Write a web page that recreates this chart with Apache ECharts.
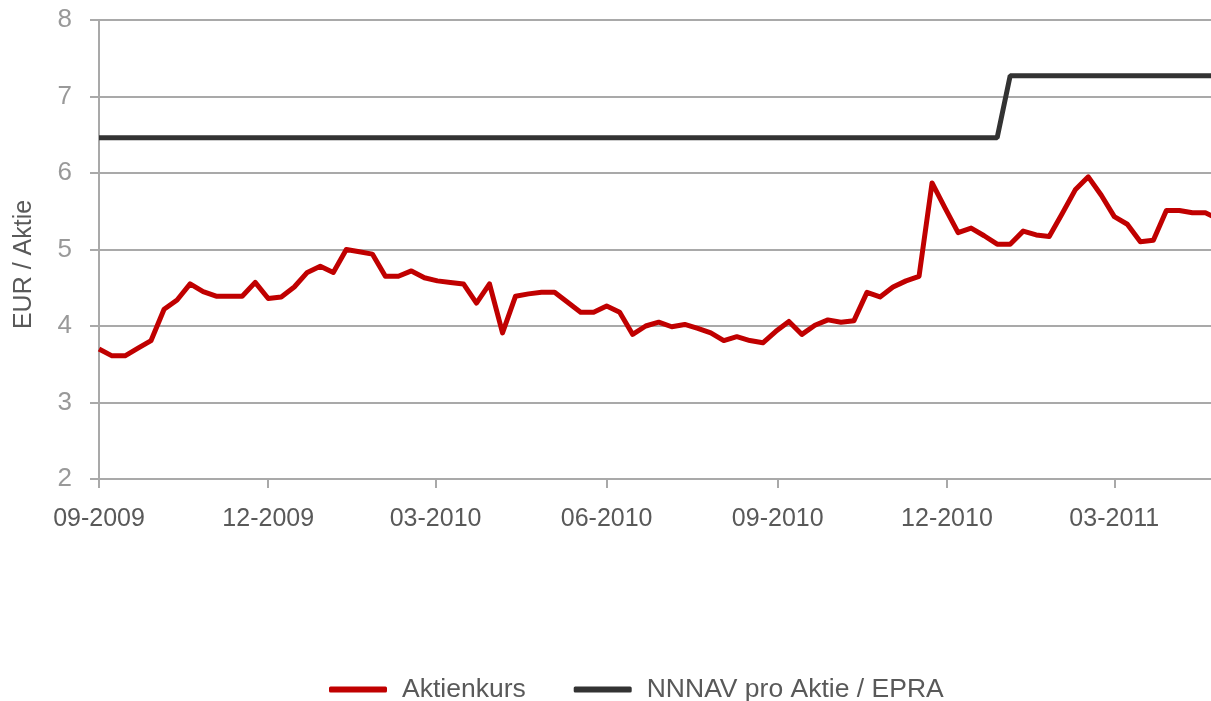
<!DOCTYPE html>
<html>
<head>
<meta charset="utf-8">
<script src="https://cdn.jsdelivr.net/npm/echarts@6/dist/echarts.min.js"></script>
<style>
    html, body { margin: 0; padding: 0; background: #fff; }
    #chart { width: 1211px; height: 701px; }
</style>
</head>
<body>
<div id="chart"></div>
<script>
// Aktienkurs vs. NNNAV, weekly closes from 09-2009

// first weekly close, one point every 7 days after that
var startDate = [2009, 8, 1];
var axisEnd = [2011, 3, 22];

// Aktienkurs (EUR), weekly
var kursValues = [
    3.70, 3.61, 3.61, 3.71, 3.81, 4.22, 4.34, 4.55, 4.45, 4.39,
    4.39, 4.39, 4.57, 4.36, 4.38, 4.51, 4.70, 4.78, 4.70, 5.00,
    4.97, 4.94, 4.65, 4.65, 4.72, 4.63, 4.59, 4.57, 4.55, 4.30,
    4.55, 3.91, 4.39, 4.42, 4.44, 4.44, 4.31, 4.18, 4.18, 4.26,
    4.18, 3.89, 4.00, 4.05, 3.99, 4.02, 3.97, 3.91, 3.81, 3.86,
    3.81, 3.78, 3.93, 4.06, 3.89, 4.01, 4.08, 4.05, 4.07, 4.44,
    4.38, 4.51, 4.59, 4.65, 5.87, 5.54, 5.22, 5.28, 5.18, 5.07,
    5.07, 5.24, 5.19, 5.17, 5.47, 5.78, 5.95, 5.71, 5.43, 5.33,
    5.10, 5.12, 5.51, 5.51, 5.48, 5.48, 5.40
];

// NNNAV pro Aktie / EPRA: only the corner points of the step
var navDates = ['2009-09-01', '2010-12-28', '2011-01-04', '2011-04-26'];
var navValues = [6.46, 6.46, 7.27, 7.27];

// quarter ticks on the x axis
var tickDates = ['2009-09-01', '2009-12-01', '2010-03-01', '2010-06-01', '2010-09-01', '2010-12-01', '2011-03-01'];

function toTime(s) {
    var p = s.split('-');
    return new Date(+p[0], +p[1] - 1, +p[2]).getTime();
}

var kursData = [];
for (var i = 0; i < kursValues.length; i++) {
    var d = new Date(startDate[0], startDate[1], startDate[2] + 7 * i);
    kursData.push([d.getTime(), kursValues[i]]);
}
var navData = [];
for (var j = 0; j < navDates.length; j++) {
    navData.push([toTime(navDates[j]), navValues[j]]);
}

var gridColor = '#a9a9a9';
var font = 'Liberation Sans, Arial, sans-serif';

var option = {
    animation: false,
    grid: {
        left: 99,
        right: 0,
        top: 20,
        bottom: 222
    },
    legend: {
        left: 324,
        top: 671,
        icon: 'roundRect',
        itemWidth: 58,
        itemHeight: 6,
        itemGap: 48,
        textStyle: {
            color: '#595959',
            fontSize: 26.5,
            fontFamily: font,
            padding: [0, 0, 0, 10]
        },
        data: ['Aktienkurs', 'NNNAV pro Aktie / EPRA']
    },
    xAxis: {
        type: 'time',
        min: new Date(startDate[0], startDate[1], startDate[2]).getTime(),
        max: new Date(axisEnd[0], axisEnd[1], axisEnd[2]).getTime(),
        axisLine: {
            lineStyle: { color: gridColor, width: 2 }
        },
        axisTick: {
            show: true,
            length: 9,
            customValues: tickDates.map(toTime),
            lineStyle: { color: gridColor, width: 2 }
        },
        axisLabel: {
            customValues: tickDates.map(toTime),
            formatter: '{MM}-{yyyy}',
            color: '#595959',
            fontSize: 25,
            fontFamily: font,
            margin: 28,
            hideOverlap: false
        },
        splitLine: { show: false }
    },
    yAxis: {
        type: 'value',
        min: 2,
        max: 8,
        interval: 1,
        name: 'EUR / Aktie',
        nameLocation: 'middle',
        nameGap: 62,
        nameTextStyle: {
            color: '#595959',
            fontSize: 25,
            fontFamily: font,
            padding: [0, 30, 0, 0]
        },
        axisLine: {
            show: true,
            lineStyle: { color: gridColor, width: 2 }
        },
        axisTick: {
            show: true,
            length: 9,
            lineStyle: { color: gridColor, width: 2 }
        },
        axisLabel: {
            color: '#999999',
            fontSize: 26,
            fontFamily: font,
            margin: 27
        },
        splitLine: {
            show: true,
            lineStyle: { color: gridColor, width: 2 }
        }
    },
    series: [
        {
            name: 'Aktienkurs',
            type: 'line',
            data: kursData,
            symbol: 'none',
            itemStyle: { color: '#c00000' },
            lineStyle: { color: '#c00000', width: 5, join: 'round' },
            z: 3
        },
        {
            name: 'NNNAV pro Aktie / EPRA',
            type: 'line',
            data: navData,
            symbol: 'none',
            itemStyle: { color: '#333333' },
            lineStyle: { color: '#333333', width: 5 },
            z: 2
        }
    ]
};

var myechart = echarts.init(document.getElementById('chart'));
myechart.setOption(option);
</script>
</body>
</html>
